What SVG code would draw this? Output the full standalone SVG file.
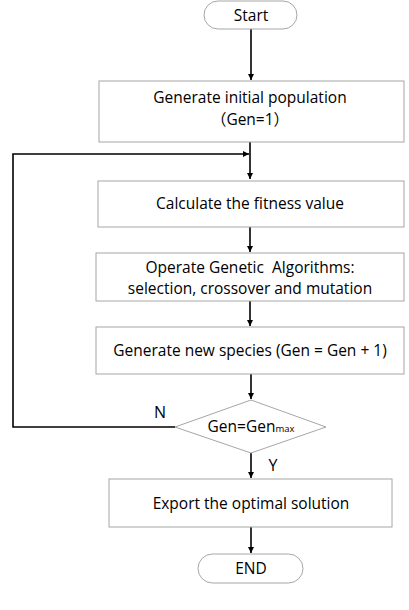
<svg xmlns="http://www.w3.org/2000/svg" width="409" height="610" viewBox="0 0 409 610">
<style>
.box{fill:#fff;stroke:#a6a6a6;stroke-width:1}
.t{font-family:"Open Sans","Liberation Sans","Noto Sans CJK SC",sans-serif;font-size:15.5px;fill:#000;text-anchor:middle}
.c{fill:none;stroke:#000;stroke-width:1.6}
</style>
<defs>
<marker id="ah" viewBox="0 0 10 10" refX="10" refY="5" markerWidth="6" markerHeight="6" markerUnits="userSpaceOnUse" orient="auto">
<path d="M0,0 L10,5 L0,10 z" fill="#000"/>
</marker>
</defs>
<rect width="409" height="610" fill="#fff"/>
<g id="connectors">
<line class="c" x1="251" y1="29" x2="251" y2="80" marker-end="url(#ah)"/>
<line class="c" x1="250" y1="142" x2="250" y2="179" marker-end="url(#ah)"/>
<line class="c" x1="250" y1="227" x2="250" y2="252" marker-end="url(#ah)"/>
<line class="c" x1="250" y1="301" x2="250" y2="326" marker-end="url(#ah)"/>
<line class="c" x1="251" y1="374" x2="251" y2="399" marker-end="url(#ah)"/>
<line class="c" x1="251" y1="453" x2="251" y2="478" marker-end="url(#ah)"/>
<line class="c" x1="251" y1="527" x2="251" y2="553" marker-end="url(#ah)"/>
<polyline class="c" points="175,427 13,427 13,154 249,154" marker-end="url(#ah)"/>
<text class="t" x="160" y="418" style="font-size:16px">N</text>
<text class="t" x="273" y="471" style="font-size:16px">Y</text>
</g>
<g id="start">
<rect class="box" x="204" y="1" width="93" height="28" rx="14"/>
<text class="t" x="251" y="21">Start</text>
</g>
<g id="init">
<rect class="box" x="99" y="81" width="305" height="61"/>
<text class="t" x="250" y="103">Generate initial population</text>
<text class="t" x="250" y="125">（Gen=1）</text>
</g>
<g id="fitness">
<rect class="box" x="98" y="181" width="306" height="46"/>
<text class="t" x="250" y="209">Calculate the fitness value</text>
</g>
<g id="ga">
<rect class="box" x="96" y="253" width="308" height="48"/>
<text class="t" x="250" y="273" xml:space="preserve">Operate Genetic  Algorithms:</text>
<text class="t" x="250" y="294">selection, crossover and mutation</text>
</g>
<g id="newspecies">
<rect class="box" x="96" y="327" width="308" height="47"/>
<text class="t" x="250" y="356">Generate new species (Gen = Gen + 1)</text>
</g>
<g id="decision">
<polygon class="box" points="251,400 326,427 251,453 175,427"/>
<text class="t" x="251" y="432">Gen=Gen<tspan style="font-size:9.5px">max</tspan></text>
</g>
<g id="export">
<rect class="box" x="109" y="479" width="283" height="48"/>
<text class="t" x="251" y="509">Export the optimal solution</text>
</g>
<g id="end">
<rect class="box" x="198" y="554" width="105" height="29" rx="14.5"/>
<text class="t" x="251" y="574">END</text>
</g>
</svg>
